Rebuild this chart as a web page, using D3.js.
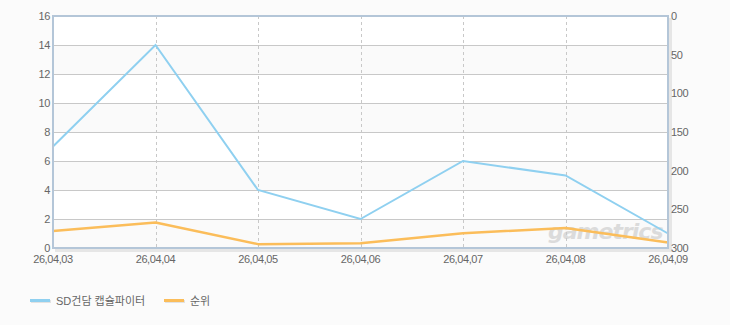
<!DOCTYPE html>
<meta charset="utf-8">
<style>
body { margin: 0; background: #fbfbfb; }
text { font-family: "Liberation Sans", "Noto Sans CJK KR", sans-serif; font-size: 11px; fill: #666; }
.tick { letter-spacing: -0.4px; }
.grid line { stroke: #c8c8c8; }
.vgrid line { stroke: #c8c8c8; stroke-dasharray: 3,3; }
</style>
<svg width="730" height="325"></svg>
<script src="https://d3js.org/d3.v7.min.js"></script>
<script>

var dates = ["26,04,03", "26,04,04", "26,04,05", "26,04,06", "26,04,07", "26,04,08", "26,04,09"];
var users = [7, 14, 4, 2, 6, 5, 1];
var rank = [278, 267, 295, 294, 281, 274, 293];
var leftTicks = [0, 2, 4, 6, 8, 10, 12, 14, 16];
var rightTicks = [0, 50, 100, 150, 200, 250, 300];
var seriesNames = ["SD건담 캡슐파이터", "순위"];
var colors = ["#8fd0f0", "#fbbd5a"];

var svg = d3.select("svg");
var plotLeft = 53, plotRight = 668, plotTop = 16, plotBottom = 248;

var x = d3.scalePoint().domain(dates).range([plotLeft, plotRight]);
var y = d3.scaleLinear().domain([0, 16]).range([plotBottom, plotTop]);
var y2 = d3.scaleLinear().domain([0, 300]).range([plotTop, plotBottom]);

// shadow
svg.append("rect")
    .attr("x", plotLeft + 2).attr("y", plotTop + 2)
    .attr("width", plotRight - plotLeft + 2).attr("height", plotBottom - plotTop + 2)
    .attr("fill", "#e6e6e6");

svg.append("rect")
    .attr("x", plotLeft).attr("y", plotTop)
    .attr("width", plotRight - plotLeft).attr("height", plotBottom - plotTop)
    .attr("fill", "#fff");

// alternating bands
svg.append("g").selectAll("rect")
  .data(d3.range(0, 16, 4))
  .enter().append("rect")
    .attr("x", plotLeft)
    .attr("y", function(d) { return y(d + 2); })
    .attr("width", plotRight - plotLeft)
    .attr("height", function(d) { return y(d) - y(d + 2); })
    .attr("fill", "#fafafa");

svg.append("g").attr("class", "grid").selectAll("line")
  .data(leftTicks.slice(1, -1))
  .enter().append("line")
    .attr("x1", plotLeft).attr("x2", plotRight)
    .attr("y1", function(d) { return Math.round(y(d)) + 0.5; })
    .attr("y2", function(d) { return Math.round(y(d)) + 0.5; });

svg.append("g").attr("class", "vgrid").selectAll("line")
  .data(dates.slice(1, -1))
  .enter().append("line")
    .attr("x1", function(d) { return Math.round(x(d)) + 0.5; })
    .attr("x2", function(d) { return Math.round(x(d)) + 0.5; })
    .attr("y1", plotTop).attr("y2", plotBottom);

// watermark
svg.append("text")
    .attr("x", 548).attr("y", 239)
    .style("font-family", "DejaVu Sans")
    .style("font-size", "22px")
    .style("font-style", "italic")
    .style("font-weight", "bold")
    .style("fill", "#c8c8c8")
    .style("opacity", 0.6)
    .style("letter-spacing", "-1px")
    .text("gametrics");

var line1 = d3.line()
    .x(function(d, i) { return x(dates[i]); })
    .y(function(d) { return y(d); });

var line2 = d3.line()
    .x(function(d, i) { return x(dates[i]); })
    .y(function(d) { return y2(d); });

svg.append("path")
    .datum(rank)
    .attr("fill", "none")
    .attr("stroke", colors[1])
    .attr("stroke-width", 2.5)
    .attr("stroke-linejoin", "round")
    .attr("d", line2);

svg.append("path")
    .datum(users)
    .attr("fill", "none")
    .attr("stroke", colors[0])
    .attr("stroke-width", 2)
    .attr("d", line1);

// border
svg.append("rect")
    .attr("x", plotLeft).attr("y", plotTop)
    .attr("width", plotRight - plotLeft).attr("height", plotBottom - plotTop)
    .attr("fill", "none")
    .attr("stroke", "#b4c6d8")
    .attr("stroke-width", 2);

// axes labels
svg.append("g").selectAll("text")
  .data(leftTicks)
  .enter().append("text")
    .attr("class", "tick")
    .attr("x", plotLeft - 3)
    .attr("y", function(d) { return y(d) + 4; })
    .attr("text-anchor", "end")
    .text(function(d) { return d; });

svg.append("g").selectAll("text")
  .data(rightTicks)
  .enter().append("text")
    .attr("class", "tick")
    .attr("x", plotRight + 3)
    .attr("y", function(d) { return y2(d) + 4; })
    .attr("text-anchor", "start")
    .text(function(d) { return d; });

svg.append("g").selectAll("text")
  .data(dates)
  .enter().append("text")
    .attr("class", "tick")
    .attr("x", function(d) { return x(d); })
    .attr("y", plotBottom + 15)
    .attr("text-anchor", "middle")
    .text(function(d) { return d; });

// legend
var legendX = [30, 164];
var lg = svg.append("g").selectAll("g")
  .data(seriesNames)
  .enter().append("g")
    .attr("transform", function(d, i) { return "translate(" + legendX[i] + ",299)"; });

lg.append("rect")
    .attr("x", 1).attr("y", 1)
    .attr("width", 20).attr("height", 3)
    .attr("fill", "#e2e2e2");

lg.append("rect")
    .attr("x", 0).attr("y", 0)
    .attr("width", 20).attr("height", 3)
    .attr("fill", function(d, i) { return colors[i]; });

lg.append("text")
    .attr("x", 26).attr("y", 6)
    .text(function(d) { return d; });

</script>
